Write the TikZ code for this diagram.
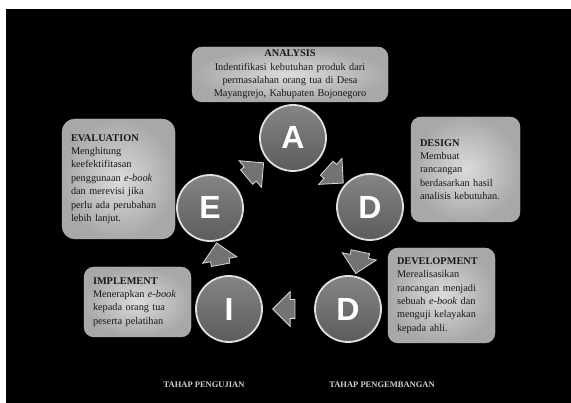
\documentclass[tikz,border=0pt]{standalone}
\usepackage{fontspec}
\setmainfont{Liberation Serif}
\newfontfamily\lettersans{Liberation Sans}
\usetikzlibrary{
		calc,
		shapes.arrows,
		positioning
	}
\tikzset{
		phase/.style={circle, draw=black!12, line width=1.8pt,
			top color=black!48, bottom color=black!64,
			minimum size=66pt, inner sep=0pt, text=white,
			font=\lettersans\bfseries\fontsize{32}{32}\selectfont},
		infobox/.style={rounded corners=10pt, draw=black!28, thin,
			inner color=black!14, outer color=black!34,
			inner xsep=9pt, inner ysep=0pt, align=left, text=black!90,
			font=\fontsize{10.3}{13.4}\selectfont},
		flow/.style={single arrow, draw=black!15, line width=0.8pt,
			fill=black!55, text width=12pt, inner xsep=0pt, inner ysep=9pt,
			single arrow head extend=8pt},
		stage/.style={text=black!18,
			font=\bfseries\fontsize{8.5}{8.5}\selectfont}
	}
\begin{document}
\begin{tikzpicture}[x=1pt,y=1pt]
          \fill[white] (0,0) rectangle (571,403);
          \fill[black] (6,0) rectangle (571,394);
          \useasboundingbox (0,0) rectangle (571,403);

          % ADDIE circles
          \node[phase] (A) at (293,265) {A};
          \node[phase] (D1) at (370,196) {D};
          \node[phase] (D2) at (348,94) {D};
          \node[phase] (I) at (229,94) {I};
          \node[phase] (E) at (210,195) {E};

          % block arrows between the phases
          \path (A) -- (D1) node[flow, midway, sloped, allow upside down] (AD) {};
          \path (D1) -- (D2) node[flow, midway, sloped, allow upside down] (DD) {};
          \path (D2) -- (I) node[flow, midway, sloped, allow upside down] (DI) {};
          \path (I) -- (E) node[flow, midway, sloped, allow upside down] (IE) {};
          \path (E) -- (A) node[flow, midway, sloped, allow upside down] (EA) {};

          % description boxes
          \node[infobox, align=center, text width=178pt, minimum height=55pt] (analysis) at (290,328.5)
            {\textbf{ANALYSIS}\\ Indentifikasi kebutuhan produk dari\\ permasalahan orang tua di Desa\\ Mayangrejo, Kabupaten Bojonegoro};
          \node[infobox, text width=91pt, minimum height=105pt] (design) at (465.5,233.5)
            {\textbf{DESIGN}\\ Membuat\\ rancangan\\ berdasarkan hasil\\ analisis kebutuhan.};
          \node[infobox, text width=89pt, minimum height=95pt] (development) at (441.5,107.5)
            {\textbf{DEVELOPMENT}\\ Merealisasikan\\ rancangan menjadi\\ sebuah \textit{e-book} dan\\ menguji kelayakan\\ kepada ahli.};
          \node[infobox, text width=89pt, minimum height=70pt] (implement) at (137.5,101)
            {\textbf{IMPLEMENT}\\ Menerapkan \textit{e-book}\\ kepada orang tua\\ peserta pelatihan};
          \node[infobox, text width=95pt, minimum height=120pt, rounded corners=13pt] (evaluation) at (118.5,224)
            {\textbf{EVALUATION}\\ Menghitung\\ keefektifitasan\\ penggunaan \textit{e-book}\\ dan merevisi jika\\ perlu ada perubahan\\ lebih lanjut.};

          \node[stage] (uji) at (204,18) {TAHAP PENGUJIAN};
          \node[stage] (kembang) at (382,18) {TAHAP PENGEMBANGAN};
\end{tikzpicture}
\end{document}
